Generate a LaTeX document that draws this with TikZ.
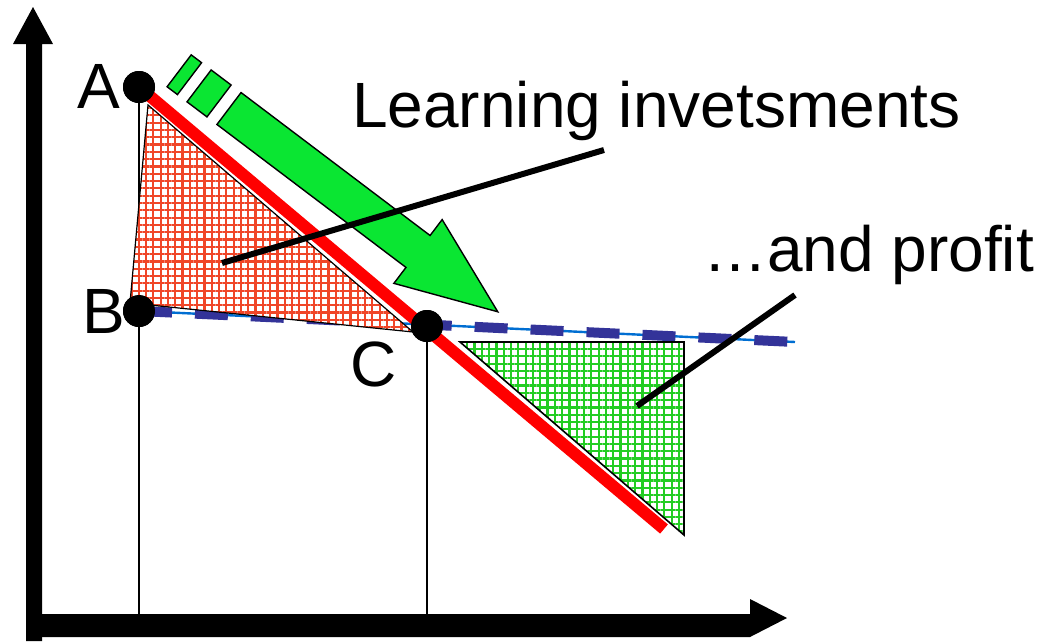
\documentclass[tikz,border=0pt]{standalone}
\usepackage{fontspec}
\setmainfont{Liberation Sans}
\usepackage{tikz}
\usetikzlibrary{patterns.meta, calc}
\definecolor{lossred}{RGB}{240, 70, 40}
\definecolor{gaingreen}{RGB}{35, 205, 35}
\definecolor{arrowgreen}{RGB}{10, 230, 50}
\definecolor{costblue}{RGB}{0, 110, 210}
\definecolor{dashblue}{RGB}{51, 51, 153}

\begin{document}
\begin{tikzpicture}[
    x=1pt, y=-1pt,
    axis/.style={fill=black},
    guide/.style={draw=black, line width=1.2pt},
    lossarea/.style={draw=black, line width=1.2pt, preaction={fill=white}, pattern={Hatch[angle=0, distance=7.3pt, line width=2.2pt]}, pattern color=lossred},
    gainarea/.style={draw=black, line width=1.6pt, preaction={fill=white}, pattern={Hatch[angle=0, distance=7.3pt, line width=2.2pt]}, pattern color=gaingreen},
    dot/.style={circle, fill=black, minimum size=32pt, inner sep=0pt},
    label/.style={anchor=base west, inner sep=0pt, font=\fontsize{64}{76}\selectfont},
    leader/.style={draw=black, line width=6pt},
    block/.style={fill=arrowgreen, draw=black, line width=1.4pt, line join=miter}
]
\useasboundingbox (0,0) rectangle (1041,641);
% axes
\fill[axis] (26,641) -- (26,44) -- (13,44) -- (33,7) -- (53,44) -- (42,44) -- (42,641) -- cycle;
\fill[axis] (26,614) -- (750,614) -- (750,599) -- (787,618) -- (750,637) -- (26,637) -- cycle;
% points
\node[dot] (ptA) at (139,87) {};
\node[dot] (ptB) at (139,311) {};
\node[dot] (ptC) at (427,326) {};
\coordinate (footA) at (139,614);
\coordinate (footC) at (427,614);
\coordinate (costend) at (795,342);
\coordinate (lineend) at (664,529);
% cost line
\draw[costblue, line width=2.4pt] (ptB.center) -- (costend);
\draw[dashblue, line width=10pt, dash pattern=on 33pt off 23pt] (ptB.center) -- (costend);
\draw[guide] (ptA.center) -- (footA);
\draw[guide] (ptC.center) -- (footC);
% areas
\path[lossarea] (148,105) -- (413,332) -- (130,303) -- cycle;
\path[gainarea] (460,342) -- (684,342) -- (684,535) -- cycle;
\draw[red, line width=12pt] (ptA.center) -- (lineend);
\node[dot] at (ptA) {};
\node[dot] at (ptB) {};
\node[dot] at (ptC) {};
% big arrow
\begin{scope}[shift={(229,108.5)}, rotate=-37.1]
    \path[block] (-62.5,-20) rectangle (-49.5,20);
    \path[block] (-37.5,-20) rectangle (-12.5,20);
    \path[block] (0,-20) -- (237,-20) -- (237,-40) -- (337,0) -- (237,40) -- (237,20) -- (0,20) -- cycle;
\end{scope}
% labels
\node[label] (labA) at (77,108) {A};
\node[label] (labB) at (82,333) {B};
\node[label] (labC) at (350,386) {C};
\node[label] (invest) at (352,127) {Learning invetsments};
\node[label] (profit) at (703,271) {…and profit};
\coordinate (investtip) at (222,263);
\coordinate (investfoot) at (604,150);
\coordinate (profittip) at (637,406);
\coordinate (profitfoot) at (795,295);
\draw[leader] (investfoot) -- (investtip);
\draw[leader] (profitfoot) -- (profittip);
\end{tikzpicture}
\end{document}
